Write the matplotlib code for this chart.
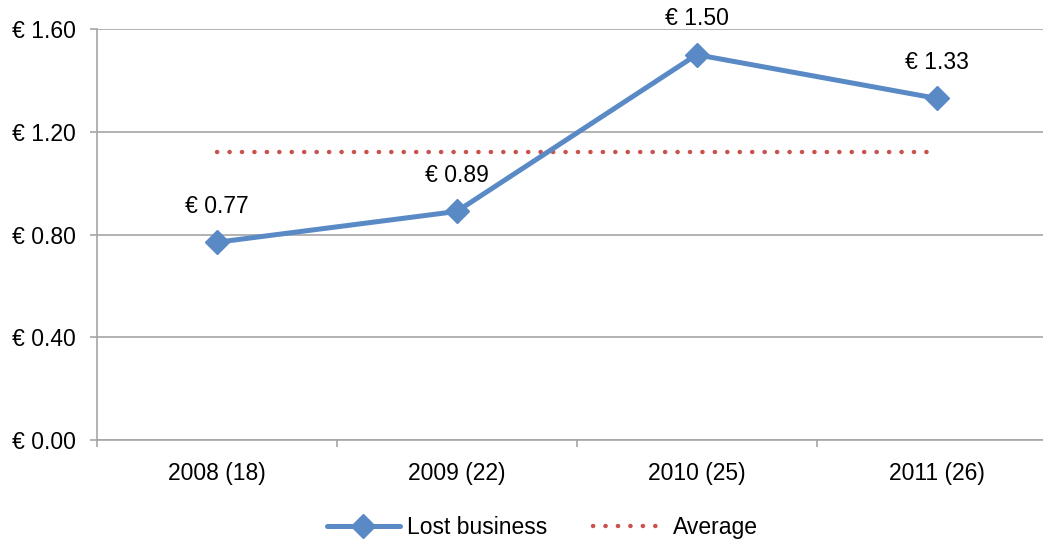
"""
lost business per year, with the average
"""
import matplotlib.pyplot as plt
from matplotlib.ticker import FixedLocator, FuncFormatter

plt.rcParams['font.family'] = ['Liberation Sans', 'DejaVu Sans']

years = ['2008 (18)', '2009 (22)', '2010 (25)', '2011 (26)']
lost = [0.77, 0.89, 1.50, 1.33]
average = [1.1225, 1.1225, 1.1225, 1.1225]
y_ticks = [0.0, 0.4, 0.8, 1.2, 1.6]

blue = '#5A8AC6'
red = '#C9524F'
grey = '#A6A6A6'

fig = plt.figure(figsize=(10.43, 5.42), dpi=100)
ax = fig.add_axes([0.093, 0.188, 0.920, 0.7585])

x = range(len(years))
ax.plot(x, lost, color=blue, lw=3.6, marker='D', ms=12, label='Lost business',
        solid_capstyle='round', zorder=3)
ax.plot(x, average, color=red, lw=3.2, ls=(0, (0.05, 2.75)), dash_capstyle='round',
        label='Average', zorder=2)

for i, v in enumerate(lost):
    ax.annotate(f'€ {v:.2f}', (i, v), xytext=(0, 26), textcoords='offset points',
                ha='center', va='center', fontsize=16.5)

ax.set_xlim(-0.5, len(years) - 0.5)
ax.set_ylim(0, 1.6)
ax.set_yticks(y_ticks)
ax.yaxis.set_major_formatter(FuncFormatter(lambda v, _: f'€ {v:.2f}'))
ax.set_xticks(list(x))
ax.set_xticklabels(years)
ax.xaxis.set_minor_locator(FixedLocator([i - 0.5 for i in range(len(years) + 1)]))

ax.grid(axis='y', color=grey, lw=1.2)
ax.set_axisbelow(True)
for s in ['top', 'right']:
    ax.spines[s].set_visible(False)
for s in ['left', 'bottom']:
    ax.spines[s].set_color(grey)
    ax.spines[s].set_linewidth(1.2)

ax.tick_params(axis='y', length=5, color=grey, width=1.2, labelsize=16.5, pad=10)
ax.tick_params(axis='x', which='major', length=0, labelsize=16.5, pad=16)
ax.tick_params(axis='x', which='minor', length=5, color=grey, width=1.2)

fig.legend(loc='center', bbox_to_anchor=(0.52, 0.026), ncol=2, frameon=False,
           fontsize=16.5, handlelength=3.2, handletextpad=0.3, columnspacing=2.0)

plt.savefig('out.png')
